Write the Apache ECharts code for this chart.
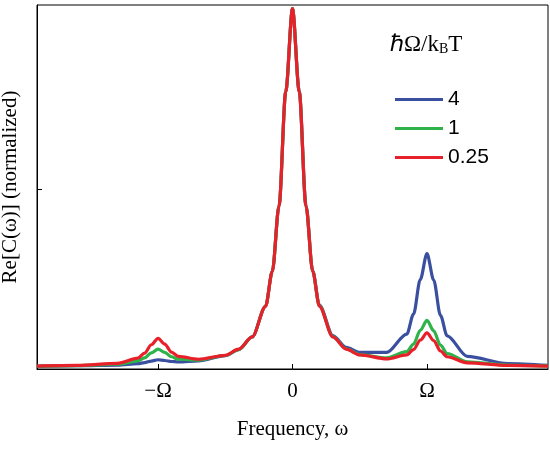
<!DOCTYPE html>
<html><head><meta charset="utf-8">
<script src="https://cdn.jsdelivr.net/npm/echarts@6/dist/echarts.min.js"></script>
<style>html,body{margin:0;padding:0;background:#fff}#c{width:550px;height:450px}</style>
</head><body><div id="c"></div>
<script>
const xs = [-1.9,-1.6,-1.3,-1.15,-1.1,-1.05,-1,-0.95,-0.9,-0.85,-0.7,-0.5,-0.4,-0.3,-0.2,-0.15,-0.1,-0.05,0,0.05,0.1,0.15,0.2,0.3,0.4,0.5,0.7,0.85,0.9,0.95,1,1.05,1.1,1.15,1.3,1.6,1.9];
const blue = [.0077,.0092,.011,.0147,.0176,.0221,.0256,.0236,.0208,.0197,.0225,.037,.054,.089,.174,.271,.454,.771,1.0,.772,.455,.273,.177,.093,.060,.046,.046,.097,.152,.248,.320,.247,.149,.092,.035,.015,.010];
const green = [.0076,.0091,.0133,.0223,.0306,.0446,.055,.046,.034,.0273,.0247,.0375,.054,.089,.174,.271,.453,.770,1.0,.770,.453,.271,.175,.090,.056,.040,.031,.048,.069,.107,.135,.106,.066,.043,.020,.011,.0084];
const red = [.008,.0098,.0158,.030,.044,.0673,.085,.069,.047,.0352,.027,.038,.055,.089,.174,.271,.453,.770,1.0,.770,.453,.271,.174,.089,.055,.039,.028,.039,.054,.080,.100,.079,.050,.034,.017,.010,.008];
const names = ['4','1','0.25'];
const colors = ['#3a4fa0','#2db34a','#e8202a'];
const tickVals = [-1,0,1];
const tickLabels = {'-1':'\u2212\u03A9','0':'0','1':'\u03A9'};
const F = 'Liberation Serif';
const pair = a => xs.map((x,i)=>[x,a[i]]);
const chart = echarts.init(document.getElementById('c'));
chart.setOption({
  animation:false,
  grid:{left:37,right:2,top:5,bottom:81,show:true,borderColor:'#000',borderWidth:1,containLabel:false,outerBoundsMode:'none'},
  xAxis:{type:'value',min:-1.9,max:1.9,
    axisLine:{onZero:false,lineStyle:{color:'#000'}},
    axisTick:{inside:true,length:5,customValues:tickVals,lineStyle:{color:'#000'}},
    axisLabel:{customValues:tickVals,formatter:v=>tickLabels[String(v)],fontFamily:F,fontSize:21,color:'#000',margin:12},
    splitLine:{show:false},
    name:'Frequency, \u03C9',nameLocation:'middle',nameGap:50,nameTextStyle:{fontFamily:F,fontSize:21,color:'#000'}},
  yAxis:{type:'value',min:0,max:1.01,
    axisLine:{onZero:false,lineStyle:{color:'#000'}},
    axisTick:{inside:true,length:5,customValues:[0.5],lineStyle:{color:'#000'}},
    axisLabel:{show:false},splitLine:{show:false},
    name:'Re[C(\u03C9)] (normalized)',nameLocation:'middle',nameGap:16,nameTextStyle:{fontFamily:F,fontSize:21,color:'#000'}},
  legend:{orient:'vertical',left:390,top:84,itemWidth:48,itemHeight:3,itemGap:8,icon:'rect',
    textStyle:{fontFamily:'Liberation Sans',fontSize:21,color:'#000'},data:names},
  graphic:[{type:'text',left:390,top:33,style:{text:'{a|\u210F\u03A9/k}{s|B}{a|T}',rich:{a:{fontFamily:F,fontSize:23,fill:'#000'},s:{fontFamily:F,fontSize:14,fill:'#000',padding:[10,0,0,0]}}}}],
  series:[blue,green,red].map((d,i)=>({name:names[i],type:'line',data:pair(d),smooth:0.3,smoothMonotone:'x',showSymbol:false,
    lineStyle:{width:3.2,color:colors[i]},itemStyle:{color:colors[i]}}))
});
</script></body></html>
